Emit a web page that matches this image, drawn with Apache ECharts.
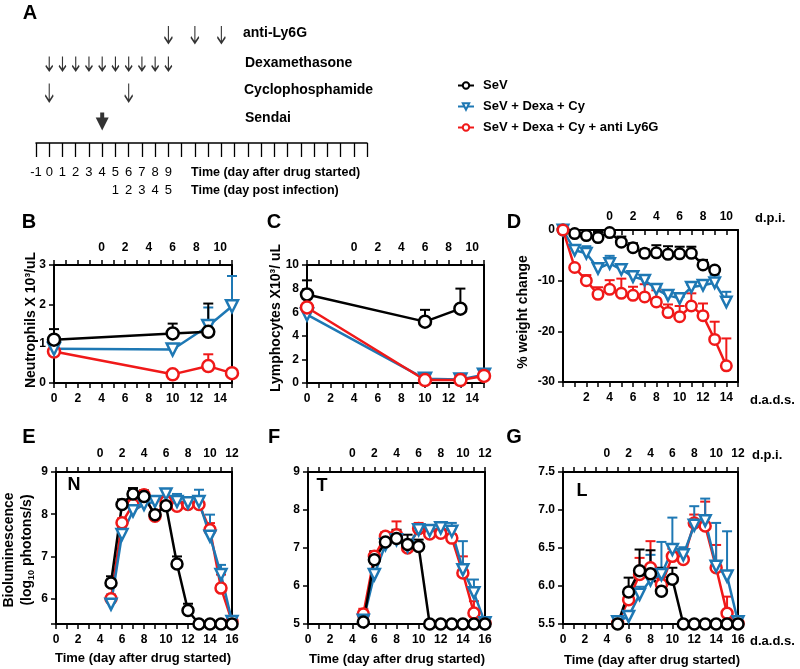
<!DOCTYPE html>
<html lang="en">
<head>
<meta charset="UTF-8">
<title>SeV infection panels</title>
<script src="https://cdn.jsdelivr.net/npm/echarts@6/dist/echarts.min.js"></script>
<style>html,body{margin:0;padding:0;background:#fff;}</style>
</head>
<body>
<div id="chart" style="width:800px;height:669px;"></div>
<script>
var FONT = 'Liberation Sans, Arial, Helvetica, sans-serif';

// groups
var names = ['SeV', 'SeV + Dexa + Cy', 'SeV + Dexa + Cy + anti Ly6G'];
var colors = ['#000000', '#1e78b4', '#f01919'];
var symbols = ['circle', 'triangle', 'circle'];

// A: dosing schedule (day after drug started)
var scheduleRows = ['Sendai', 'Cyclophosphamide', 'Dexamethasone', 'anti-Ly6G'];
var antiLy6GDays = [9, 11, 13];
var dexaDays = [0, 1, 2, 3, 4, 5, 6, 7, 8, 9];
var cycloDays = [0, 6];
var sendaiDays = [4];

// B: neutrophils
var bDays = [0, 10, 13, 15];
var bSeV = [1.1, 1.26, 1.3, null];
var bSeVErr = [0.27, 0.25, 0.72, null];
var bDexa = [0.87, 0.85, 1.45, 1.95];
var bDexaErr = [0.08, 0.05, 0.47, 0.77];
var bLy6G = [0.8, 0.22, 0.43, 0.25];
var bLy6GErr = [0.05, 0.03, 0.3, 0.03];

// C: lymphocytes
var cDays = [0, 10, 13, 15];
var cSeV = [7.5, 5.2, 6.3, null];
var cSeVErr = [1.2, 1.0, 1.7, null];
var cDexa = [5.8, 0.35, 0.3, 0.7];
var cDexaErr = [0.5, 0.1, 0.1, 0.1];
var cLy6G = [6.4, 0.25, 0.25, 0.6];
var cLy6GErr = [1.3, 0.1, 0.1, 0.1];

// D: % weight change
var dDays = [0, 1, 2, 3, 4, 5, 6, 7, 8, 9, 10, 11, 12, 13, 14];
var dSeV = [0, -0.7, -1.1, -1.5, -0.5, -2.4, -3.5, -4.6, -4.5, -4.8, -4.7, -4.6, -6.9, -7.9, null];
var dSeVErr = [0, 0.4, 0.4, 1.1, 0.3, 1.1, 0.9, 0.8, 1.5, 1.6, 1.4, 1.3, 1.0, 0.6, null];
var dDexa = [0, -4.0, -4.6, -7.6, -6.6, -7.8, -9.2, -9.9, -11.7, -12.9, -13.5, -11.3, -10.9, -10.4, -14.2];
var dDexaErr = [0, 0.8, 1.4, 0.5, 1.5, 0.5, 0.5, 0.5, 0.3, 0.3, 0.3, 0.5, 0.5, 1.5, 2.0];
var dLy6G = [0, -7.4, -10.0, -12.7, -11.7, -12.5, -12.9, -13.2, -14.2, -16.3, -17.1, -15.0, -16.9, -21.6, -26.8];
var dLy6GErr = [0, 0.3, 1.1, 1.4, 1.8, 2.9, 1.7, 2.5, 2.3, 1.6, 2.1, 2.5, 2.4, 3.5, 5.4];

// E, F, G: bioluminescence (log10 photons/s)
var lumDays = [5, 6, 7, 8, 9, 10, 11, 12, 13, 14, 15, 16];
var eSeV = [6.37, 8.23, 8.48, 8.42, 7.99, 8.2, 6.82, 5.72, 5.4, 5.4, 5.4, 5.4];
var eSeVErr = [0.16, 0.12, 0.14, 0.14, 0.1, 0.08, 0.18, 0.16, 0, 0, 0, 0];
var eDexa = [5.87, 7.52, 8.08, 8.23, 8.3, 8.48, 8.3, 8.27, 8.3, 7.48, 6.57, 5.46];
var eDexaErr = [0.23, 0.15, 0.12, 0.1, 0.08, 0.08, 0.18, 0.08, 0.28, 0.51, 0.23, 0.02];
var eLy6G = [6.0, 7.8, 8.23, 8.46, 7.95, 8.3, 8.19, 8.23, 8.23, 7.63, 6.25, 5.46];
var eLy6GErr = [0.05, 0.1, 0.1, 0.1, 0.08, 0.08, 0.1, 0.1, 0.1, 0.16, 0.32, 0.02];

var fSeV = [5.05, 6.69, 7.16, 7.25, 7.09, 7.04, 5.0, 5.0, 5.0, 5.0, 5.0, 5.0];
var fSeVErr = [0.15, 0.22, 0.24, 0.23, 0.26, 0.18, 0, 0, 0, 0, 0, 0];
var fDexa = [5.1, 6.3, 7.09, 7.22, 7.04, 7.48, 7.46, 7.53, 7.44, 6.43, 5.82, 5.03];
var fDexaErr = [0.1, 0.15, 0.1, 0.1, 0.1, 0.1, 0.1, 0.1, 0.22, 0.75, 0.35, 0.02];
var fLy6G = [5.26, 6.78, 7.31, 7.35, 7.0, 7.51, 7.37, 7.39, 7.26, 6.34, 5.29, 5.03];
var fLy6GErr = [0.14, 0.13, 0.1, 0.35, 0.1, 0.15, 0.1, 0.1, 0.1, 0.44, 0.31, 0.02];

var gSeV = [5.5, 5.92, 6.2, 6.16, 5.93, 6.09, 5.5, 5.5, 5.5, 5.5, 5.5, 5.5];
var gSeVErr = [0, 0.19, 0.28, 0.31, 0.31, 0.15, 0, 0, 0, 0, 0, 0];
var gDexa = [5.53, 5.6, 5.89, 6.08, 6.15, 6.48, 6.41, 6.8, 6.86, 6.26, 6.13, 5.53];
var gDexaErr = [0.02, 0.05, 0.1, 0.33, 0.43, 0.42, 0.1, 0.25, 0.29, 0.57, 0.59, 0.02];
var gLy6G = [5.51, 5.82, 6.15, 6.24, 6.02, 6.39, 6.35, 6.83, 6.79, 6.24, 5.64, 5.51];
var gLy6GErr = [0.02, 0.07, 0.22, 0.35, 0.1, 0.1, 0.1, 0.11, 0.32, 0.3, 0.22, 0.02];

// panel layout (px) and axis settings
var panels = [
  { rect: [54, 265, 178, 118], days: bDays, vals: [bSeV, bDexa, bLy6G], errs: [bSeVErr, bDexaErr, bLy6GErr],
    order: [2, 1, 0], xMax: 15, labFrom: 0, topMax: 11, topInside: false, topMargin: 11,
    yMin: 0, yMax: 3, yInt: 1, sym: 12 },
  { rect: [307, 265, 177, 118], days: cDays, vals: [cSeV, cDexa, cLy6G], errs: [cSeVErr, cDexaErr, cLy6GErr],
    order: [0, 1, 2], xMax: 15, labFrom: 0, topMax: 11, topInside: false, topMargin: 11,
    yMin: 0, yMax: 10, yInt: 2, sym: 12 },
  { rect: [563, 230, 175, 152], days: dDays, vals: [dSeV, dDexa, dLy6G], errs: [dSeVErr, dDexaErr, dLy6GErr],
    order: [0, 1, 2], xMax: 15, labFrom: 2, topMax: 11, topInside: true, topMargin: 7,
    yMin: -30, yMax: 0, yInt: 10, sym: 10.5 },
  { rect: [56, 472, 176, 152], days: lumDays, vals: [eSeV, eDexa, eLy6G], errs: [eSeVErr, eDexaErr, eLy6GErr],
    order: [2, 1, 0], xMax: 16, labFrom: 0, topMax: 12, topInside: false, topMargin: 12,
    yMin: 5.4, yMax: 9, yInt: null, sym: 11 },
  { rect: [308, 472, 177, 152], days: lumDays, vals: [fSeV, fDexa, fLy6G], errs: [fSeVErr, fDexaErr, fLy6GErr],
    order: [2, 1, 0], xMax: 16, labFrom: 0, topMax: 12, topInside: false, topMargin: 12,
    yMin: 5, yMax: 9, yInt: 1, sym: 11 },
  { rect: [563, 472, 175, 152], days: lumDays, vals: [gSeV, gDexa, gLy6G], errs: [gSeVErr, gDexaErr, gLy6GErr],
    order: [2, 1, 0], xMax: 16, labFrom: 0, topMax: 12, topInside: false, topMargin: 12,
    yMin: 5.5, yMax: 7.5, yInt: 0.5, sym: 11, yFmt: function (v) { return v.toFixed(1); } }
];

var axisLine = { show: true, onZero: false, lineStyle: { color: '#000', width: 2 } };
var tickStyle = { color: '#000', width: 1.5 };
var labelStyle = { color: '#000', fontSize: 12, fontWeight: 'bold', fontFamily: FONT };

var grids = [], xAxes = [], yAxes = [], series = [];

function errRender(color) {
  return function (params, api) {
    var x = api.value(0), y = api.value(1), e = api.value(2);
    var p0 = api.coord([x, y]);
    var p1 = api.coord([x, y + e]);
    return {
      type: 'group',
      children: [
        { type: 'line', shape: { x1: p0[0], y1: p0[1], x2: p1[0], y2: p1[1] }, style: { stroke: color, lineWidth: 2 } },
        { type: 'line', shape: { x1: p1[0] - 5, y1: p1[1], x2: p1[0] + 5, y2: p1[1] }, style: { stroke: color, lineWidth: 2 } }
      ]
    };
  };
}

panels.forEach(function (p, pi) {
  grids.push({ left: p.rect[0], top: p.rect[1], width: p.rect[2], height: p.rect[3] });
  xAxes.push({
    gridIndex: pi, type: 'value', position: 'bottom', min: 0, max: p.xMax, interval: 1,
    axisLine: axisLine, axisTick: { show: true, length: 5, lineStyle: tickStyle }, splitLine: { show: false },
    axisLabel: Object.assign({}, labelStyle, { margin: 10, formatter: function (v) {
      return (v % 2 === 0 && v >= p.labFrom) ? String(v) : ''; } })
  });
  xAxes.push({
    gridIndex: pi, type: 'value', position: 'top', min: -4, max: p.topMax, interval: 1,
    axisLine: axisLine, axisTick: { show: true, inside: p.topInside, length: 5, lineStyle: tickStyle }, splitLine: { show: false },
    axisLabel: Object.assign({}, labelStyle, { margin: p.topMargin, formatter: function (v) {
      return (v >= 0 && v % 2 === 0) ? String(v) : ''; } })
  });
  var yl = {
    gridIndex: pi, type: 'value', position: 'left', min: p.yMin, max: p.yMax,
    axisLine: axisLine, axisTick: { show: true, length: 5, lineStyle: tickStyle }, splitLine: { show: false },
    axisLabel: Object.assign({}, labelStyle, { margin: 8, formatter: p.yFmt || function (v) {
      return Number.isInteger(v) ? String(v) : ''; } })
  };
  if (p.yInt) { yl.interval = p.yInt; } else { yl.splitNumber = 4; }
  yAxes.push(yl);
  yAxes.push({
    gridIndex: pi, type: 'value', position: 'right', min: p.yMin, max: p.yMax,
    axisLine: axisLine, axisTick: { show: false }, axisLabel: { show: false }, splitLine: { show: false }
  });

  p.order.forEach(function (g) {
    var data = [];
    p.days.forEach(function (d, i) {
      var v = p.vals[g][i], e = p.errs[g][i];
      if (v != null && e) data.push([d, v, e]);
    });
    series.push({ type: 'custom', name: 'err-' + pi + '-' + g, xAxisIndex: 2 * pi, yAxisIndex: 2 * pi,
      clip: false, silent: true, z: 2, data: data, renderItem: errRender(colors[g]) });
  });
  p.order.forEach(function (g) {
    var data = [];
    p.days.forEach(function (d, i) { if (p.vals[g][i] != null) data.push([d, p.vals[g][i]]); });
    series.push({
      type: 'line', name: names[g], xAxisIndex: 2 * pi, yAxisIndex: 2 * pi, data: data, clip: false, z: 3,
      symbol: symbols[g], symbolRotate: g === 1 ? 180 : 0, symbolSize: p.sym, showAllSymbol: true,
      lineStyle: { color: colors[g], width: 2.5 },
      itemStyle: { color: '#fff', borderColor: colors[g], borderWidth: 2.5 },
      emphasis: { disabled: true }
    });
  });
});

// panel A: schedule grid, timeline axis 7px under the arrow rows
var aGrid = grids.length;
grids.push({ left: 36, top: 20, width: 331, height: 116 });
var aX = xAxes.length;
xAxes.push({
  gridIndex: aGrid, type: 'value', position: 'bottom', offset: 7, min: -1, max: 24, interval: 1,
  axisLine: { show: true, onZero: false, lineStyle: { color: '#000', width: 1.5 } },
  axisTick: { show: true, length: 14, lineStyle: { color: '#000', width: 1.3 } }, splitLine: { show: false },
  axisLabel: { color: '#000', fontSize: 13, fontFamily: FONT, margin: 23,
    formatter: function (v) { return v <= 9 ? String(v) : ''; } }
});
xAxes.push({
  gridIndex: aGrid, type: 'value', position: 'bottom', offset: 25, min: -1, max: 24, interval: 1,
  axisLine: { show: false }, axisTick: { show: false }, splitLine: { show: false },
  axisLabel: { color: '#000', fontSize: 13, fontFamily: FONT, margin: 23,
    formatter: function (v) { return (v >= 5 && v <= 9) ? String(v - 4) : ''; } }
});
var aY = yAxes.length;
yAxes.push({ gridIndex: aGrid, type: 'category', data: scheduleRows, show: false });

var thinArrow = 'path://M4,0L4,20M0,13L4,20L8,13';
var thickArrow = 'path://M4.5,0L8.5,0L8.5,5L13,5L6.5,18L0,5L4.5,5Z';
function arrows(name, days, row, symbol, size, filled) {
  return {
    type: 'scatter', name: name, xAxisIndex: aX, yAxisIndex: aY, silent: true, clip: false,
    symbol: symbol, symbolSize: size,
    itemStyle: filled ? { color: '#000' } : { color: 'transparent', borderColor: '#000', borderWidth: 1.6 },
    data: days.map(function (d) { return [d, row]; })
  };
}
series.push(arrows('anti-Ly6G', antiLy6GDays, 'anti-Ly6G', thinArrow, [8, 17], false));
series.push(arrows('Dexamethasone', dexaDays, 'Dexamethasone', thinArrow, [7, 14], false));
series.push(arrows('Cyclophosphamide', cycloDays, 'Cyclophosphamide', thinArrow, [8, 18], false));
series.push(arrows('Sendai', sendaiDays, 'Sendai', thickArrow, [13, 18], true));

function txt(x, y, s, size, opt) {
  opt = opt || {};
  var st = { text: s, fontSize: size, fontWeight: opt.normal ? 'normal' : 'bold', fontFamily: FONT,
    fill: '#000', align: opt.align || 'center', verticalAlign: 'middle' };
  if (opt.rich) st.rich = opt.rich;
  return { type: 'text', x: x, y: y, rotation: opt.rot || 0, silent: true, style: st };
}
var UP = Math.PI / 2;

var graphics = [
  txt(30, 13, 'A', 20), txt(29, 222, 'B', 20), txt(274, 222, 'C', 20), txt(514, 222, 'D', 20),
  txt(29, 437, 'E', 20), txt(274, 437, 'F', 20), txt(514, 437, 'G', 20),
  txt(243, 33, 'anti-Ly6G', 14, { align: 'left' }),
  txt(245, 63, 'Dexamethasone', 14, { align: 'left' }),
  txt(244, 90, 'Cyclophosphamide', 14, { align: 'left' }),
  txt(245, 118, 'Sendai', 14, { align: 'left' }),
  txt(191, 173, 'Time (day after drug started)', 12.5, { align: 'left' }),
  txt(191, 191, 'Time (day post infection)', 12.5, { align: 'left' }),
  txt(31, 320, 'Neutrophils X 10\u00b3/uL', 14, { rot: UP }),
  txt(276, 318, 'Lymphocytes X10\u00b3/ uL', 14, { rot: UP }),
  txt(523, 312, '% weight change', 14, { rot: UP }),
  txt(9, 550, 'Bioluminescence', 14, { rot: UP }),
  txt(27, 550, '{n|(log}{s|10}{n| photons/s)}', 14, { rot: UP, rich: {
    n: { fontSize: 14, fontWeight: 'bold', fontFamily: FONT, lineHeight: 18 },
    s: { fontSize: 9, fontWeight: 'bold', fontFamily: FONT, verticalAlign: 'bottom' } } }),
  txt(143, 658, 'Time (day after drug started)', 13),
  txt(397, 659, 'Time (day after drug started)', 13),
  txt(652, 660, 'Time (day after drug started)', 13),
  txt(74, 485, 'N', 18), txt(322, 486, 'T', 18), txt(582, 491, 'L', 18),
  txt(755, 218, 'd.p.i.', 13, { align: 'left' }),
  txt(750, 400, 'd.a.d.s.', 13, { align: 'left' }),
  txt(752, 455, 'd.p.i.', 13, { align: 'left' }),
  txt(750, 641, 'd.a.d.s.', 13, { align: 'left' })
];

var chart = echarts.init(document.getElementById('chart'), null, { renderer: 'canvas' });
chart.setOption({
  backgroundColor: '#fff',
  animation: false,
  legend: {
    data: names, orient: 'vertical', left: 452, top: 74, itemWidth: 16, itemHeight: 8, itemGap: 8,
    selectedMode: false,
    textStyle: { fontSize: 13, fontWeight: 'bold', color: '#000', fontFamily: FONT, padding: [0, 0, 0, 4] }
  },
  grid: grids,
  xAxis: xAxes,
  yAxis: yAxes,
  series: series,
  graphic: graphics
});
</script>
</body>
</html>
